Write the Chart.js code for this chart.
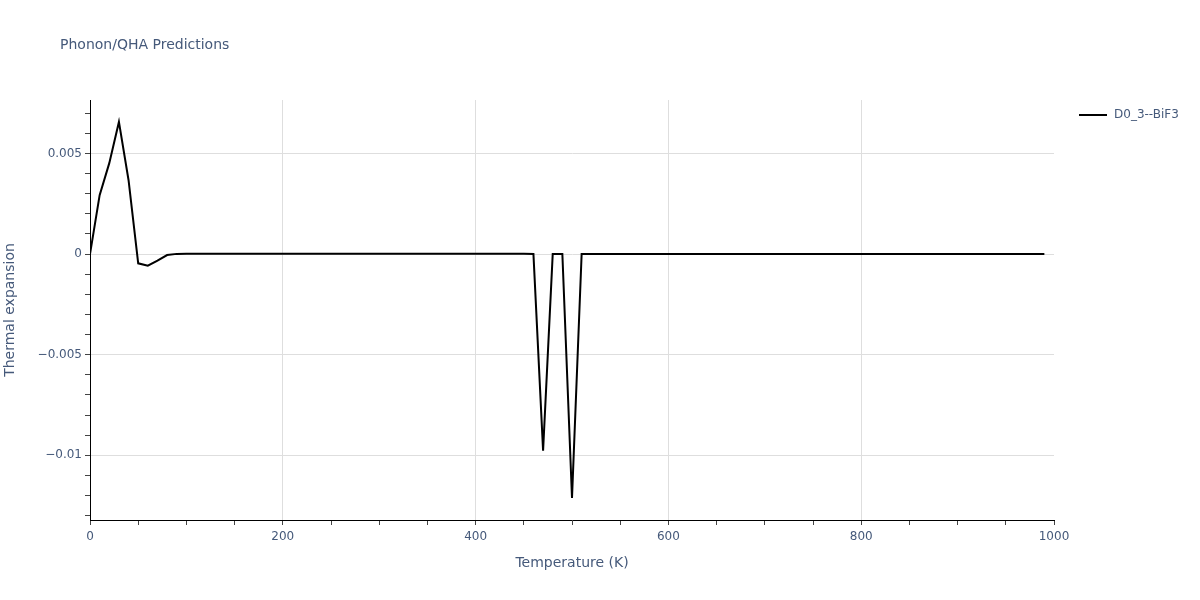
<!DOCTYPE html>
<html>
<head>
<meta charset="utf-8">
<script src="https://cdn.jsdelivr.net/npm/chart.js@4.4.0/dist/chart.umd.min.js"></script>
<style>
    body { margin: 0; background: #fff; }
    #wrap { width: 1200px; height: 600px; position: relative; }
</style>
</head>
<body>
<div id="wrap"><canvas id="qha"></canvas></div>
<script>
// Temperature (K)
var temperatures = [
    0, 10, 20, 30, 40, 50, 60, 70, 80, 90,
    100, 110, 120, 130, 140, 150, 160, 170, 180, 190,
    200, 210, 220, 230, 240, 250, 260, 270, 280, 290,
    300, 310, 320, 330, 340, 350, 360, 370, 380, 390,
    400, 410, 420, 430, 440, 450, 460, 470, 480, 490,
    500, 510, 520, 530, 540, 550, 560, 570, 580, 590,
    600, 610, 620, 630, 640, 650, 660, 670, 680, 690,
    700, 710, 720, 730, 740, 750, 760, 770, 780, 790,
    800, 810, 820, 830, 840, 850, 860, 870, 880, 890,
    900, 910, 920, 930, 940, 950, 960, 970, 980, 990
];
// Thermal expansion, D0_3--BiF3
var expansion = [
    0, 0.00293, 0.00452, 0.00657, 0.00367, -0.00046, -0.00058, -0.00033, -0.00005, 0.00001,
    0.00002, 0.00002, 0.00002, 0.00002, 0.00002, 0.00002, 0.00002, 0.00002, 0.00002, 0.00002,
    0.00002, 0.00002, 0.00002, 0.00002, 0.00002, 0.00002, 0.00002, 0.00002, 0.00002, 0.00002,
    0.00002, 0.00002, 0.00002, 0.00002, 0.00002, 0.00002, 0.00002, 0.00002, 0.00002, 0.00002,
    0.00002, 0.00002, 0.00002, 0.00002, 0.00002, 0.00002, 0, -0.00977, 0, 0,
    -0.01213, 0, 0.00001, 0.00001, 0.00001, 0.00001, 0.00001, 0.00001, 0.00001, 0.00001,
    0.00001, 0.00001, 0.00001, 0.00001, 0.00001, 0.00001, 0.00001, 0.00001, 0.00001, 0.00001,
    0.00001, 0.00001, 0.00001, 0.00001, 0.00001, 0.00001, 0.00001, 0.00001, 0.00001, 0.00001,
    0.00001, 0.00001, 0.00001, 0.00001, 0.00001, 0.00001, 0.00001, 0.00001, 0.00001, 0.00001,
    0.00001, 0.00001, 0.00001, 0.00001, 0.00001, 0.00001, 0.00001, 0.00001, 0.00001, 0.00001
];
var seriesName = "D0_3--BiF3";
var chartTitle = "Phonon/QHA Predictions";
var xLabelTicks = [0, 200, 400, 600, 800, 1000];
var yLabelTicks = [0.005, 0, -0.005, -0.01];

var fontFam = "'DejaVu Sans', Verdana, sans-serif";
var txtColor = '#45597a';

function isMajorY(v){
    for (var i = 0; i < yLabelTicks.length; i++) {
        if (Math.abs(v - yLabelTicks[i]) < 1e-9) return true;
    }
    return false;
}
function isMajorX(v){
    return xLabelTicks.indexOf(Math.round(v)) >= 0;
}

var points = [];
for (var i = 0; i < temperatures.length; i++) {
    points.push({x: temperatures[i], y: expansion[i]});
}

// title + legend drawn by hand (plotly style)
var extras = {
    id: 'extras',
    afterDraw: function(chart){
        var ctx = chart.ctx;
        ctx.save();
        ctx.fillStyle = txtColor;
        ctx.font = "14px " + fontFam;
        ctx.textBaseline = 'middle';
        ctx.textAlign = 'left';
        ctx.fillText(chartTitle, 60, 45);
        ctx.strokeStyle = '#000';
        ctx.lineWidth = 2;
        ctx.beginPath();
        ctx.moveTo(1079, 115);
        ctx.lineTo(1107, 115);
        ctx.stroke();
        ctx.font = "12px " + fontFam;
        ctx.fillText(seriesName, 1114, 115);
        ctx.restore();
    }
};

var ctx = document.getElementById("qha").getContext("2d");
var bieudo = new Chart(ctx, {
    type: "line",
    data: {
        datasets: [
            {
                label: seriesName,
                data: points,
                borderColor: '#000',
                borderWidth: 2,
                pointRadius: 0,
                tension: 0,
                fill: false
            }
        ]
    },
    options: {
        responsive: true,
        maintainAspectRatio: false,
        animation: false,
        layout: { padding: { top: 100, right: 146, left: 0, bottom: 0 } },
        plugins: {
            legend: { display: false },
            title: { display: false },
            tooltip: { enabled: false }
        },
        scales: {
            x: {
                type: 'linear',
                min: 0,
                max: 1000,
                afterFit: function(scale){ scale.height = 80; },
                afterBuildTicks: function(scale){
                    var t = [];
                    for (var v = 0; v <= 1000; v += 50) t.push({value: v});
                    scale.ticks = t;
                },
                ticks: {
                    autoSkip: false,
                    maxRotation: 0,
                    padding: 5,
                    color: txtColor,
                    font: { family: fontFam, size: 12 },
                    callback: function(v){ return isMajorX(v) ? String(v) : ''; }
                },
                grid: {
                    drawTicks: true,
                    tickLength: 5,
                    tickColor: '#444',
                    color: function(c){
                        var v = c.tick ? c.tick.value : 0;
                        return (isMajorX(v) && v !== 0 && v !== 1000) ? '#dedede' : 'rgba(0,0,0,0)';
                    }
                },
                border: { display: true, color: '#000', width: 1 },
                title: {
                    display: true,
                    text: 'Temperature (K)',
                    color: txtColor,
                    font: { family: fontFam, size: 14 },
                    padding: { top: 0, bottom: 28 }
                }
            },
            y: {
                type: 'linear',
                min: -0.01322,
                max: 0.00766,
                afterFit: function(scale){ scale.width = 90; },
                afterBuildTicks: function(scale){
                    var t = [];
                    for (var k = -13; k <= 7; k++) t.push({value: k / 1000});
                    scale.ticks = t;
                },
                ticks: {
                    autoSkip: false,
                    padding: 3,
                    color: txtColor,
                    font: { family: fontFam, size: 12 },
                    callback: function(v){
                        if (!isMajorY(v)) return '';
                        if (Math.abs(v) < 1e-12) return '0';
                        return String(+v.toFixed(3)).replace('-', '\u2212');
                    }
                },
                grid: {
                    drawTicks: true,
                    tickLength: 5,
                    tickColor: '#444',
                    color: function(c){
                        var v = c.tick ? c.tick.value : 1;
                        return isMajorY(v) ? '#dedede' : 'rgba(0,0,0,0)';
                    }
                },
                border: { display: true, color: '#000', width: 1 },
                title: {
                    display: true,
                    text: 'Thermal expansion',
                    color: txtColor,
                    font: { family: fontFam, size: 14 },
                    padding: { top: 2, bottom: 0 }
                }
            }
        }
    },
    plugins: [extras]
});
</script>
</body>
</html>
